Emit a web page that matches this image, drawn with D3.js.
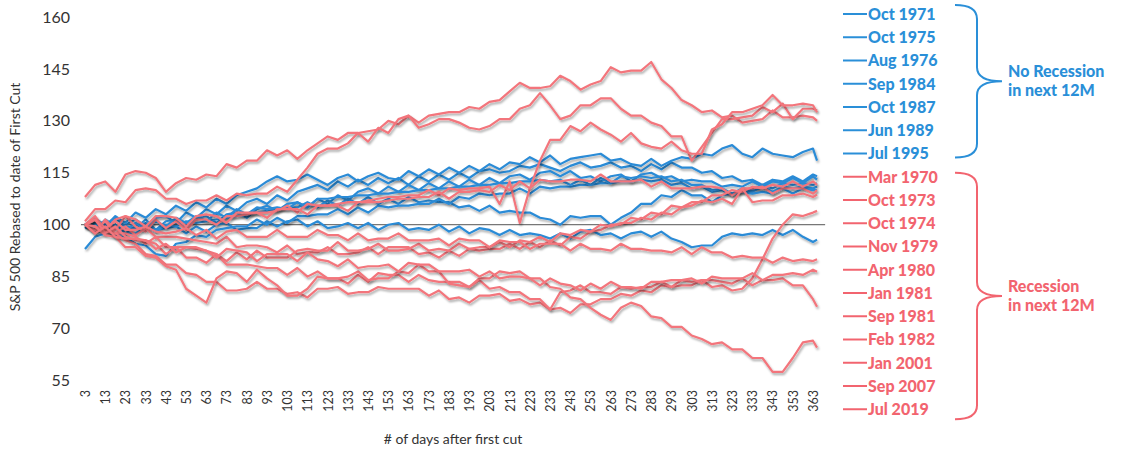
<!DOCTYPE html>
<html><head><meta charset="utf-8">
<script src="https://cdn.jsdelivr.net/npm/d3@7"></script>
<style>body{margin:0;background:#fff;} svg{display:block;font-family:Lato,"Open Sans",sans-serif;}</style>
</head><body>
<svg id="chart" width="1127" height="449"></svg>
<script>
// ---------- data ----------
const days = d3.range(3, 364, 5).concat([365]);
const xTickDays = d3.range(3, 364, 10);
const yTicks = [55, 70, 85, 100, 115, 130, 145, 160];

const blueNames = ["Oct 1971", "Oct 1975", "Aug 1976", "Sep 1984", "Oct 1987", "Jun 1989", "Jul 1995"];
const redNames = ["Mar 1970", "Oct 1973", "Oct 1974", "Nov 1979", "Apr 1980", "Jan 1981", "Sep 1981", "Feb 1982", "Jan 2001", "Sep 2007", "Jul 2019"];
const groupLabels = [["No Recession", "in next 12M"], ["Recession", "in next 12M"]];

// No recession (blue)
const oct1971 = [100,98.5,101.5,99.5,100,101.5,99.5,102,102.5,100.5,
 103.5,102,104.5,103,105.5,104,106.5,107.5,106,108.5,
 107,109.5,110.5,111.5,110,112.5,111,113,111.5,113.5,
 112,113.5,111.5,114,112.5,114.5,113,115,113.5,115.5,
 116,115,115.5,117,116.5,117.5,116.5,115.5,117,118,
 116.5,117,118,116.5,117,115.5,117.5,116,118,116.5,
 116.5,115,115.5,113.5,114,112.5,113,111.5,113,112.5,
 114,112.5,114.5,114];
const oct1975 = [99,100.5,98,100,97.5,99.5,100.5,98.5,101,101.5,
 99.5,102,102.5,100.5,103,103.5,102,104.5,105.5,104,
 106,106.5,105,107.5,106,108.5,107,109.5,110.5,109,
 111,109.5,111.5,110,112,110.5,112.5,111,113,111.5,
 113.5,112,114,114.5,113,115,115.5,114,115.5,113.5,
 114,112.5,114,114.5,112.5,114.5,115,113.5,114,112.5,
 113,112.5,112.5,111,111.5,111,112.5,111,112.5,112,
 113.5,112,114,113];
const aug1976 = [100,101.5,100,102,99.5,99,101.5,98.5,99,99.5,
 97.5,99.5,98,100,100.5,98.5,99,99,101,99.5,
 101,101.5,99.5,101,99,99.5,100.5,99,100.5,98.5,
 100,100.5,98.5,99,98.5,100,98,99.5,97.5,99,
 98.5,97,98.5,97,97.5,97,96,97.5,96,98,
 98.5,97,97.5,96,97.5,98,96.5,98,96,95,
 93.5,94,94,96.5,97.5,97,97.5,97,98.5,97,
 98.5,96.5,95,95.7];
const sep1984 = [100,98.5,98.5,97,97.5,97.5,99.5,98,100,99.5,
 101,100.5,101,101.5,102,102.5,103,103.5,104,104.5,
 105,105,106.5,105,107,105.5,107.5,106,108,106,
 107.5,106,108,106.5,107,106.5,106.5,105,105.5,104,
 105.5,103.5,104,103.5,103.5,102,101.5,100,102.5,102,
 102.5,102.5,100,102,103.5,106,106,108.5,108,110,
 108.5,108.5,106.5,108.5,109,110.5,110,111.5,110.5,112,
 111.5,112,111.5,112];
const oct1987 = [100,98,99.5,96.5,96.5,94.5,94,91.5,91,94.5,
 95,97,96.5,98.5,99,99.5,99.5,101.5,100,102,
 100.5,102.5,102.5,103,103,104.5,103,105,103.5,105.5,
 105,105.5,105.5,106,106,107.5,106,108,107.5,109,
 108.5,109,109,110.5,109,111,110.5,111,111,111.5,
 111.5,112,112,112.5,112.5,113,112.5,113,111.5,112,
 110.5,111,109.5,110,108.5,110,109.5,111,109.5,111,
 110.5,111,110.5,111];
const jun1989 = [93,96.5,97.5,100,98.5,100.5,99,101,99.5,102,
 100.5,102.5,101,103.5,102,104.5,103,105,104.5,105,
 104.5,106.5,105,107.5,107.5,108,108,108.5,108.5,109,
 109,109.5,109.5,110,110,110.5,110.5,111,111,111.5,
 111.5,112,112,112.5,112.5,113,112.5,113,111.5,113,
 111.5,113.5,112,114,113.5,114,113.5,114,112.5,113,
 111.5,111.5,110,110.5,109,109.5,109,109.5,109,110.5,
 109,110.5,110,110];
const jul1995 = [100,102,99.5,102.5,100.5,103.5,102,104.5,103,105.5,
 104,106.5,105,107.5,106,108.5,109.5,110.5,112.5,114,
 112.5,113,114.5,113,111.5,113.5,114.5,112.5,114,115,
 113.5,113,115.5,114,116,114.5,116.5,115,117,115.5,
 117.5,116,118,117.5,119.5,118,120,117.5,119,119.5,
 120,120.5,118.5,119,117.5,117,119,117,118.5,119.5,
 119,120.5,120,122,123,120.5,119.5,122,120.5,120,
 119.5,121,122,118.5];

// Recession (red)
const mar1970 = [108,111.5,112.5,109.5,114.5,115.5,115,113.5,109.5,112,
 113.5,113,114.5,114,117.5,116.5,118.5,118.5,121.5,120,
 121.5,119,121.5,123.5,125.5,124.5,126.5,126.5,127,127.5,
 130,129,131.5,129.5,131.5,132,132.5,132.5,134,133.5,
 135.5,136,138.5,141,139.5,139.5,140,143,141.5,139,
 140.5,141.5,145.5,144,144.5,144.5,147,142,139.5,136,
 134.5,132.5,133,131,131.5,129.5,130,130.5,133,131,
 131,131.5,131,130];
const oct1973 = [101,104.5,104.5,107,106.5,110,110.5,110,107.5,107.5,
 106,107,107,108.5,107,109,108.5,109,109,111,
 109.5,113,116.5,120.5,122,122,123.5,126.5,124,128,
 126.5,130.5,131.5,128,129,130.5,130.5,129.5,128,127.5,
 128.5,130.5,130.5,133.5,134.5,138,134.5,130.5,131.5,134.5,
 134.5,136.5,136.5,133.5,131.5,131.5,129.5,128.5,125.5,125.5,
 118.5,122.5,126.5,130.5,130.5,131,131.5,134,132.5,135,
 130.5,133.5,133.5,133];
const oct1974 = [100,97.5,101.5,98.5,102.5,99.5,98,101.5,99,101,
 98.5,101.5,101.5,100,102.5,102.5,103,103.5,103.5,104,
 105.5,103.5,106,105.5,105.5,106,106.5,106.5,107,107.5,
 108,108,108.5,108.5,110,108.5,110.5,110,110.5,110.5,
 111,106,112.5,100.5,110.5,118.5,124.5,124.5,128.5,127,
 129.5,127.5,126,124,126.5,123.5,122.5,122,124,121.5,
 120.5,120.5,127.5,129,132.5,132.5,133.5,134.5,137.5,134.5,
 134.5,135,134.5,132.5];
const nov1979 = [100,102.5,98.5,101.5,102.5,101.5,99.5,102.5,102.5,102,
 99.5,102.5,103,102.5,100.5,103.5,103.5,103.5,102,104.5,
 104.5,104.5,103,105.5,105.5,105.5,104,106.5,106.5,106.5,
 107,107.5,107.5,108,108,109.5,107.5,109.5,109.5,110,
 109.5,111.5,110,112.5,110.5,113,112.5,112.5,113,113,
 112.5,114.5,112.5,112.5,112.5,113,111,112.5,110.5,110.5,
 110.5,111,111,110.5,108.5,110.5,110.5,111,109,110.5,
 110.5,110.5,109,110];
const apr1980 = [100,98.5,101,97.5,99.5,97,99,96.5,96.5,96.5,
 96,95.5,95,94.5,96.5,93.5,94,94,93.5,92,
 94,91.5,92,92,93.5,91.5,91.5,92,93.5,91.5,
 93.5,93.5,93.5,91.5,92,90.5,92.5,91,93,92.5,
 93,93,94.5,93,95,93.5,95.5,94,96.5,96,
 98,98.5,100,100,102,101.5,103.5,103,105.5,105,
 106.5,106.5,108.5,108.5,110,109.5,111,110.5,111.5,111,
 112.5,111,112.5,111.5];
const jan1981 = [100,101.5,98.5,97.5,97.5,96.5,94.5,96.5,93.5,93.5,
 93.5,93,92.5,91.5,89.5,92,90,92.5,90.5,90.5,
 90.5,92.5,93,92.5,92.5,95,92.5,92.5,93,94.5,
 92.5,92.5,93,94.5,92.5,93,92.5,94.5,93,93.5,
 93.5,95,93.5,95.5,95,96.5,95,97.5,97,98.5,
 98,100,99.5,100.5,100.5,102,101.5,103.5,103,105,
 105.5,107,106.5,107.5,106,110.5,106.5,107,107,108.5,
 108.5,109,108,108.7];
const sep1981 = [100,99.5,98,97.5,95.5,94.5,91.5,91,88.5,88.5,
 86,85.5,83.5,83.5,81,81,81.5,83.5,81.5,81.5,
 80,80.5,79,81.5,81.5,82,80,80.5,80.5,82,
 81.5,81.5,81.5,81.5,79.5,81,78.5,79,77.5,79.5,
 79.5,80,78,78.5,77,77.5,75.5,76,74.5,77,
 77,78.5,78.5,80,79.5,81,80.5,82.5,82,82.5,
 82.5,84,82,82.5,81,81.5,84.5,90,96,100,
 103,102.5,103.5,104];
const feb1982 = [100,101.5,99,101,98.5,98.5,99.5,98,97.5,98,
 99,97,98.5,96,98,98.5,96.5,96.5,96.5,98.5,
 96.5,96.5,96.5,98.5,97,97,95.5,97.5,95.5,96,
 96,97.5,95.5,95.5,95.5,96,94,96,95.5,95.5,
 93.5,95.5,95,95,93,94.5,94.5,94.5,92.5,94.5,
 93,93,92.5,94.5,93,93,92.5,92.5,92,93.5,
 91.5,93.5,92,92,90.5,91,90.5,90.5,89,90.5,
 89.5,90,89.5,90];
const jan2001 = [100,101.5,97.5,99.5,96.5,95.5,95.5,94.5,91.5,93.5,
 90.5,90.5,89,91.5,88.5,88.5,88.5,88,87.5,87.5,
 85.5,87.5,85,86.5,84.5,84.5,83,85.5,83.5,86,
 85.5,85.5,83.5,85.5,84,83.5,83.5,83.5,82,84,
 81.5,82,80.5,80.5,78.5,78.5,75.5,80.5,81,82.5,
 80.5,80.5,80,82,81.5,82,82,83.5,82,84,
 83.5,84,84,83.5,83,84.5,82.5,84,84,84.5,
 82.5,82.5,78.5,76.3];
const sep2007 = [100,99.5,97,96.5,93.5,93.5,91,90.5,88,87,
 81.5,79.5,77.5,84.5,86.5,86,83.5,87,84.5,82.5,
 79.5,79.5,81.5,85,84.5,84.5,85,86.5,84,84.5,
 84.5,86.5,86,88.5,86.5,86.5,83,82.5,82,84.5,
 84.5,86.5,86,86.5,84.5,84.5,82,81.5,79,78.5,
 76,74,72.5,76,77.5,76.5,73.5,73,70.5,70.5,
 68,67,65.5,66,64,64,61.5,61.5,57.5,57.5,
 61.5,66,66.5,64.5];
const jul2019 = [100,97.5,99.5,96.5,96,96,95.5,93,94.5,92,
 93.5,93.5,92.5,90.5,93,92.5,92,89.5,91.5,91.5,
 91.5,89.5,92,90,89.5,88,90,87.5,88,88,
 88.5,86.5,89,88.5,88.5,86.5,86.5,86.5,87,85,
 86.5,84.5,85,85,84.5,82.5,84.5,83,82.5,81,
 83,81.5,83.5,82,82,81.5,83.5,83.5,84,84,
 84.5,83,85,84.5,84.5,84.5,86,84,85.5,85.5,
 86,85.5,87,86.4];

const blueSeries = [oct1971, oct1975, aug1976, sep1984, oct1987, jun1989, jul1995];
const redSeries = [mar1970, oct1973, oct1974, nov1979, apr1980, jan1981, sep1981, feb1982, jan2001, sep2007, jul2019];

// ---------- drawing ----------
const BLUE = "#2b8bd6", RED = "#f3757b", BLUE_T = "#2a8fd8", RED_T = "#f2646f";
const svg = d3.select("#chart");
const x = d3.scaleLinear().domain([3, 363]).range([85, 813]);
const y = d3.scaleLinear().domain([55, 160]).range([380.5, 17]);

const defs = svg.append("defs");
const f = defs.append("filter").attr("id", "sh").attr("x", "-5%").attr("y", "-10%").attr("width", "110%").attr("height", "125%");
f.append("feDropShadow").attr("dx", 1.2).attr("dy", 2).attr("stdDeviation", 1.1).attr("flood-color", "#000").attr("flood-opacity", 0.35);

// reference line at 100
svg.append("line").attr("x1", x(1)).attr("x2", x(369)).attr("y1", y(100)).attr("y2", y(100))
  .attr("stroke", "#555").attr("stroke-width", 1);

const line = d3.line().x((d, i) => x(days[i])).y(d => y(d));
const gl = svg.append("g");
blueSeries.forEach(s => gl.append("path").attr("d", line(s)).attr("fill", "none").attr("stroke", BLUE)
  .attr("stroke-width", 2.2).attr("stroke-linejoin", "round").attr("filter", "url(#sh)"));
redSeries.forEach(s => gl.append("path").attr("d", line(s)).attr("fill", "none").attr("stroke", RED)
  .attr("stroke-width", 2.2).attr("stroke-linejoin", "round").attr("filter", "url(#sh)"));

// y axis
const ya = svg.append("g").attr("transform", "translate(85,0)")
  .call(d3.axisLeft(y).tickValues(yTicks).tickSize(0).tickPadding(15));
ya.select(".domain").remove();
ya.selectAll("text").attr("font-size", 16).attr("fill", "#333").attr("font-family", "Lato");

// x axis
const xa = svg.append("g").attr("transform", "translate(0,390)")
  .call(d3.axisBottom(x).tickValues(xTickDays).tickSize(0));
xa.select(".domain").remove();
xa.selectAll("text").attr("transform", "rotate(-90)").attr("x", 0).attr("y", 0).attr("dy", "0.35em")
  .attr("text-anchor", "end").attr("font-size", 12.5).attr("fill", "#333").attr("font-family", "Lato");

// titles
svg.append("text").attr("x", 453).attr("y", 444).attr("text-anchor", "middle").attr("font-size", 14)
  .attr("fill", "#333").text("# of days after first cut");
svg.append("text").attr("transform", "translate(20,197) rotate(-90)").attr("text-anchor", "middle")
  .attr("font-size", 14).attr("fill", "#333").text("S&P 500 Rebased to date of First Cut");

// legend
const legY = i => 14 + i * 23.25;
const items = blueNames.map(n => ({ n, c: BLUE_T })).concat(redNames.map(n => ({ n, c: RED_T })));
const lg = svg.append("g");
items.forEach((it, i) => {
  lg.append("line").attr("x1", 843).attr("x2", 867).attr("y1", legY(i)).attr("y2", legY(i))
    .attr("stroke", it.c).attr("stroke-width", 2);
  lg.append("text").attr("x", 868).attr("y", legY(i)).attr("dy", "0.36em").attr("font-size", 16)
    .attr("font-weight", 900).attr("fill", it.c).text(it.n);
});

// braces
function brace(top, bot, color) {
  const x0 = 955, x1 = 977, tip = 1002, mid = (top + bot) / 2, r = 14;
  const p = d3.path();
  p.moveTo(x0, top);
  p.quadraticCurveTo(x1, top, x1, top + r);
  p.lineTo(x1, mid - r);
  p.quadraticCurveTo(x1, mid, tip, mid);
  p.quadraticCurveTo(x1, mid, x1, mid + r);
  p.lineTo(x1, bot - r);
  p.quadraticCurveTo(x1, bot, x0, bot);
  svg.append("path").attr("d", p.toString()).attr("fill", "none").attr("stroke", color).attr("stroke-width", 2);
  return mid;
}
const m1 = brace(legY(0) - 9, legY(6) + 4, BLUE_T);
const m2 = brace(legY(7) - 4, legY(17) + 10, RED_T);
[[m1, BLUE_T, groupLabels[0]], [m2, RED_T, groupLabels[1]]].forEach(([m, c, lab]) => {
  lab.forEach((t, k) => svg.append("text").attr("x", 1008).attr("y", m - 10 + k * 19).attr("dy", "0.36em")
    .attr("font-size", 16).attr("font-weight", 900).attr("fill", c).text(t));
});
</script>
</body></html>
